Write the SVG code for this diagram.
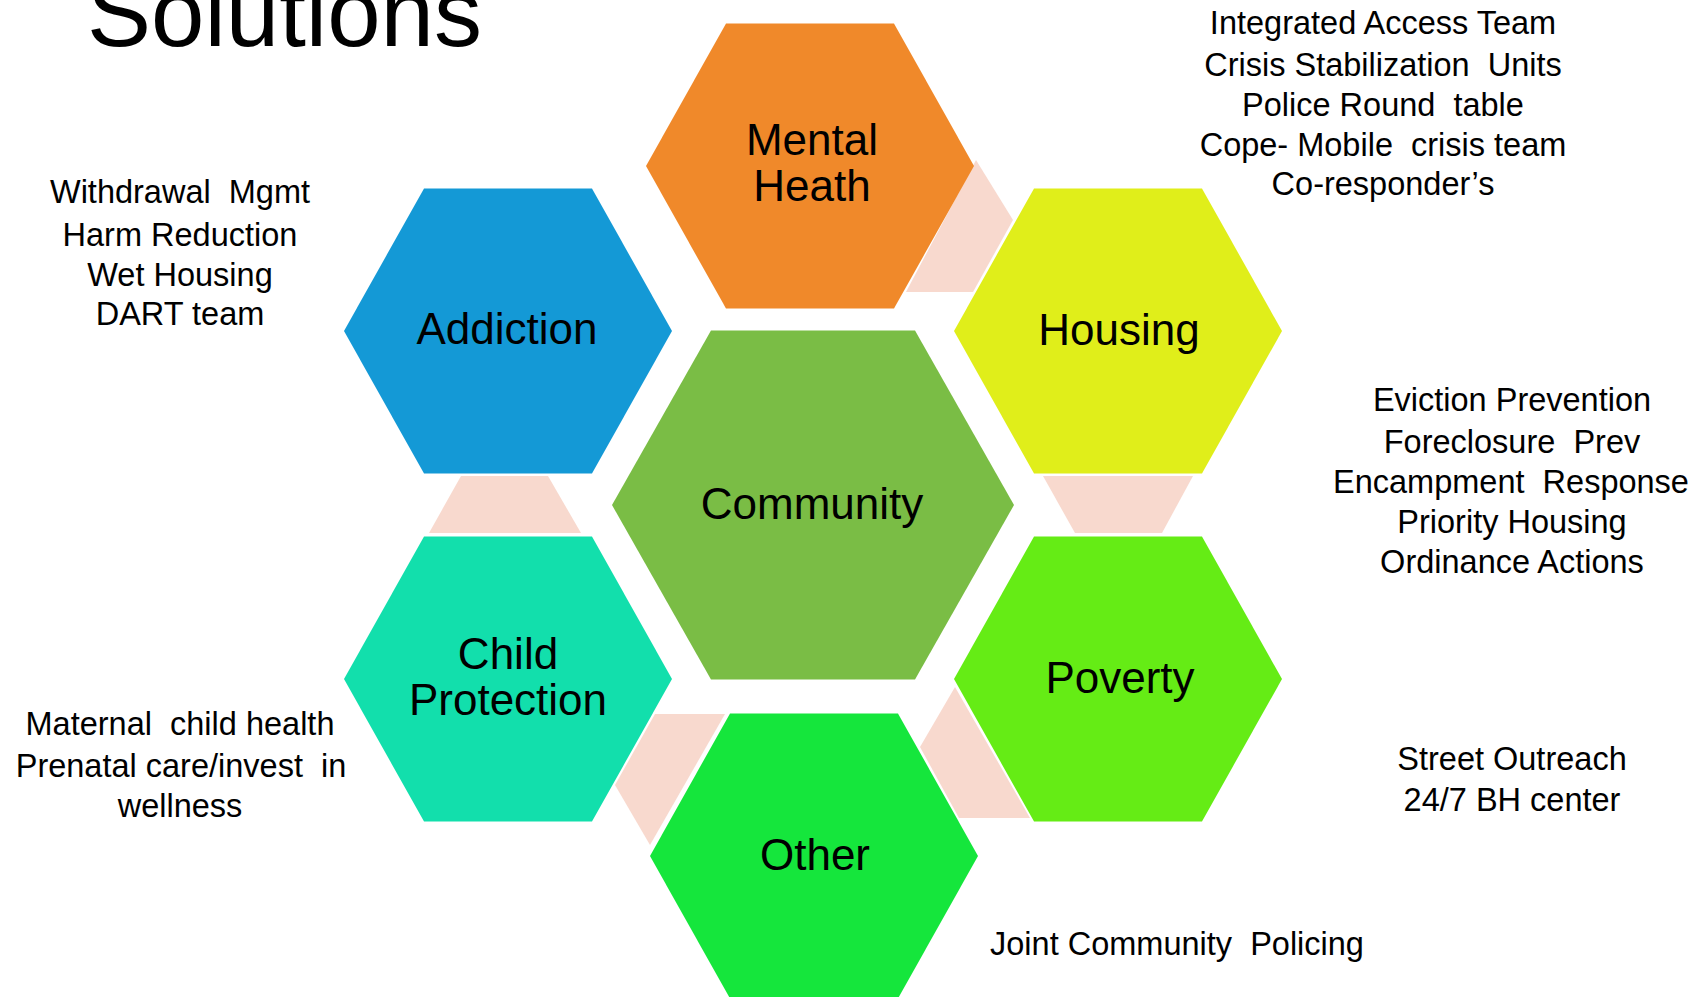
<svg xmlns="http://www.w3.org/2000/svg" width="1693" height="997" viewBox="0 0 1693 997">
<style>
.lbl{font-family:"Liberation Sans",Arial,sans-serif;font-size:44px;fill:#000;text-anchor:middle}
.note{font-family:"Liberation Sans",Arial,sans-serif;font-size:32.5px;fill:#000;text-anchor:middle}
.title{font-family:"Liberation Sans",Arial,sans-serif;font-size:96px;fill:#000}
.link{fill:#F8D9CE}
</style>
<defs>
<polygon id="hex" points="-84,-142.5 84,-142.5 164,0 84,142.5 -84,142.5 -164,0"/>
<polygon id="hexBig" points="-102,-174.5 102,-174.5 201,0 102,174.5 -102,174.5 -201,0"/>
</defs>
<rect width="1693" height="997" fill="#FFFFFF"/>
<text class="title" x="87" y="46">Solutions</text>

<g id="connectors">
<polygon class="link" points="976,160 1013,220 973,292 906,292"/>
<polygon class="link" points="1043,476 1193,476 1162,533 1075,533"/>
<polygon class="link" points="955,687 1030,818 959,818 920,747"/>
<polygon class="link" points="655,714 725,714 650,845 615,785"/>
<polygon class="link" points="461,476 548,476 581,533 429,533"/>
</g>

<g id="mental-health">
<use href="#hex" transform="translate(810,166)" fill="#F0892A"/>
<text class="lbl" x="812" y="155">Mental</text>
<text class="lbl" x="812" y="201">Heath</text>
</g>
<g id="addiction">
<use href="#hex" transform="translate(508,331)" fill="#1499D6"/>
<text class="lbl" x="507" y="344">Addiction</text>
</g>
<g id="housing">
<use href="#hex" transform="translate(1118,331)" fill="#E0EE1A"/>
<text class="lbl" x="1119" y="345">Housing</text>
</g>
<g id="community">
<use href="#hexBig" transform="translate(813,505)" fill="#7ABD45"/>
<text class="lbl" x="812" y="519">Community</text>
</g>
<g id="child-protection">
<use href="#hex" transform="translate(508,679)" fill="#12DFAC"/>
<text class="lbl" x="508" y="669">Child</text>
<text class="lbl" x="508" y="715">Protection</text>
</g>
<g id="poverty">
<use href="#hex" transform="translate(1118,679)" fill="#65EC15"/>
<text class="lbl" x="1120" y="693">Poverty</text>
</g>
<g id="other">
<use href="#hex" transform="translate(814,856)" fill="#15E63C"/>
<text class="lbl" x="815" y="870">Other</text>
</g>

<g id="notes-addiction">
<text class="note" x="180" y="203" xml:space="preserve">Withdrawal  Mgmt</text>
<text class="note" x="180" y="246">Harm Reduction</text>
<text class="note" x="180" y="286">Wet Housing</text>
<text class="note" x="180" y="325">DART team</text>
</g>
<g id="notes-mental-health">
<text class="note" x="1383" y="34">Integrated Access Team</text>
<text class="note" x="1383" y="76" xml:space="preserve">Crisis Stabilization  Units</text>
<text class="note" x="1383" y="116" xml:space="preserve">Police Round  table</text>
<text class="note" x="1383" y="156" xml:space="preserve">Cope- Mobile  crisis team</text>
<text class="note" x="1383" y="195">Co-responder’s</text>
</g>
<g id="notes-housing">
<text class="note" x="1512" y="411">Eviction Prevention</text>
<text class="note" x="1512" y="453" xml:space="preserve">Foreclosure  Prev</text>
<text class="note" x="1511" y="493" xml:space="preserve">Encampment  Response</text>
<text class="note" x="1512" y="533">Priority Housing</text>
<text class="note" x="1512" y="573">Ordinance Actions</text>
</g>
<g id="notes-poverty">
<text class="note" x="1512" y="770">Street Outreach</text>
<text class="note" x="1512" y="811">24/7 BH center</text>
</g>
<g id="notes-other">
<text class="note" x="1177" y="955" xml:space="preserve">Joint Community  Policing</text>
</g>
<g id="notes-child-protection">
<text class="note" x="180" y="735" xml:space="preserve">Maternal  child health</text>
<text class="note" x="181" y="777" xml:space="preserve">Prenatal care/invest  in</text>
<text class="note" x="180" y="817">wellness</text>
</g>
</svg>
